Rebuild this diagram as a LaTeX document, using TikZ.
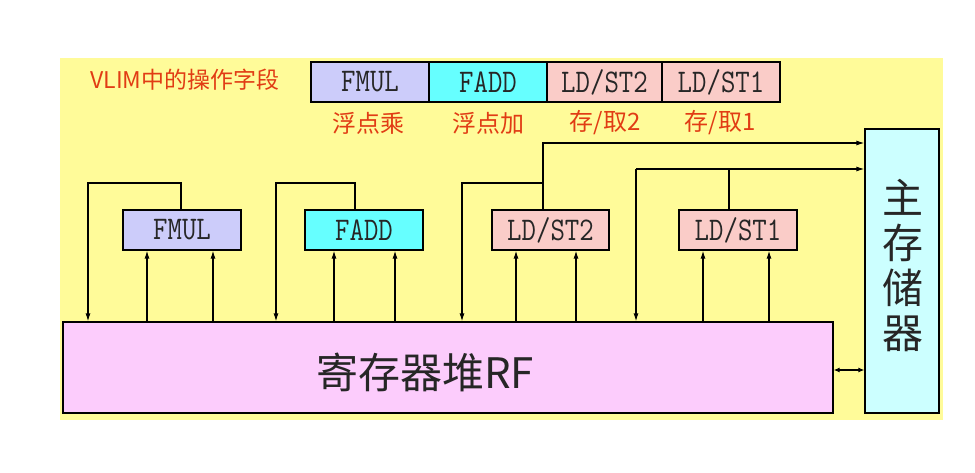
\documentclass[tikz,border=0pt]{standalone}
\usepackage{fontspec}
\usepackage{graphicx}
\newfontfamily\cjk{Noto Sans CJK SC}
\usetikzlibrary{arrows.meta}
\definecolor{bgyellow}{RGB}{255,251,153}
\definecolor{cmul}{RGB}{204,204,250}
\definecolor{cadd}{RGB}{102,255,255}
\definecolor{cls}{RGB}{250,204,200}
\definecolor{crf}{RGB}{252,204,252}
\definecolor{cmem}{RGB}{204,255,255}
\definecolor{cred}{RGB}{225,60,20}
\newcommand{\utext}[1]{\scalebox{1}[1.18]{#1}}
\tikzset{
  unitbox/.style={draw=black, line width=1.2pt, inner sep=0pt, minimum height=40pt,
    font=\ttfamily\fontsize{28}{28}\selectfont, text=black!85},
  redlab/.style={text=cred, font=\cjk\fontsize{24}{24}\selectfont, inner sep=0pt},
  arr/.style={line width=1.2pt, -{Latex[length=8pt,width=5pt]}},
  biarr/.style={line width=1.2pt, {Latex[length=6pt,width=5pt]}-{Latex[length=6pt,width=5pt]}},
  ln/.style={line width=1.2pt}
}
\begin{document}
\begin{tikzpicture}[x=1pt,y=-1pt]
\useasboundingbox (0,0) rectangle (975,473);
\fill[bgyellow] (60,58) rectangle (943,420);

% instruction fields
\node[unitbox, fill=cmul, minimum width=118pt] (fmulF) at (370,82) {\utext{FMUL}};
\node[unitbox, fill=cadd, minimum width=118pt] (faddF) at (488,82) {\utext{FADD}};
\node[unitbox, fill=cls, minimum width=115pt] (ls2F) at (604.5,82) {\utext{LD/ST2}};
\node[unitbox, fill=cls, minimum width=118pt] (ls1F) at (721,82) {\utext{LD/ST1}};

\node[redlab, font=\cjk\fontsize{23}{23}\selectfont] (vlim) at (185,80) {VLIM中的操作字段};
\node[redlab] (lmul) at (368,123) {浮点乘};
\node[redlab] (ladd) at (488,123) {浮点加};
\node[redlab] (lls2) at (605,123) {存/取2};
\node[redlab] (lls1) at (720,123) {存/取1};

% functional units
\node[unitbox, fill=cmul, minimum width=118pt] (fmul) at (182,230) {\utext{FMUL}};
\node[unitbox, fill=cadd, minimum width=118pt] (fadd) at (364,230) {\utext{FADD}};
\node[unitbox, fill=cls, minimum width=117pt] (ls2) at (550.5,230) {\utext{LD/ST2}};
\node[unitbox, fill=cls, minimum width=118pt] (ls1) at (738,230) {\utext{LD/ST1}};

% register file and memory
\node[draw=black, line width=1.2pt, fill=crf, minimum width=770pt, minimum height=91pt,
  inner sep=0pt] (rf) at (448,367.5) {};
\node[inner sep=0pt, font=\cjk\fontsize{42}{42}\selectfont, text=black!85] (rflab) at (425,372) {寄存器堆RF};
\node[draw=black, line width=1.2pt, fill=cmem, minimum width=74pt, minimum height=284pt,
  inner sep=0pt] (mem) at (902,271) {};
\node[inner sep=0pt, font=\cjk\fontsize{41}{45}\selectfont, text=black!85, align=center] (memlab) at (903,266)
  {主\\存\\储\\器};

% FMUL
\draw[arr] (181,0 |- fmul.north) -- (181,183) -- (88,183) -- (88,0 |- rf.north);
\draw[arr] (147,0 |- rf.north) -- (147,0 |- fmul.south);
\draw[arr] (213,0 |- rf.north) -- (213,0 |- fmul.south);
% FADD
\draw[arr] (355,0 |- fadd.north) -- (355,183) -- (276,183) -- (276,0 |- rf.north);
\draw[arr] (334,0 |- rf.north) -- (334,0 |- fadd.south);
\draw[arr] (395,0 |- rf.north) -- (395,0 |- fadd.south);
% LD/ST2
\draw[arr] (543,0 |- ls2.north) -- (543,143) -- (543,143 -| mem.west);
\draw[arr] (543,183) -- (462,183) -- (462,0 |- rf.north);
\draw[arr] (516,0 |- rf.north) -- (516,0 |- ls2.south);
\draw[arr] (576,0 |- rf.north) -- (576,0 |- ls2.south);
% LD/ST1
\draw[ln] (729,0 |- ls1.north) -- (729,169);
\draw[arr] (636,169) -- (636,169 -| mem.west);
\draw[arr] (636,169) -- (636,0 |- rf.north);
\draw[arr] (703,0 |- rf.north) -- (703,0 |- ls1.south);
\draw[arr] (769,0 |- rf.north) -- (769,0 |- ls1.south);
% RF <-> memory
\draw[biarr] (rf.east |- 0,370) -- (mem.west |- 0,370);
\end{tikzpicture}
\end{document}
